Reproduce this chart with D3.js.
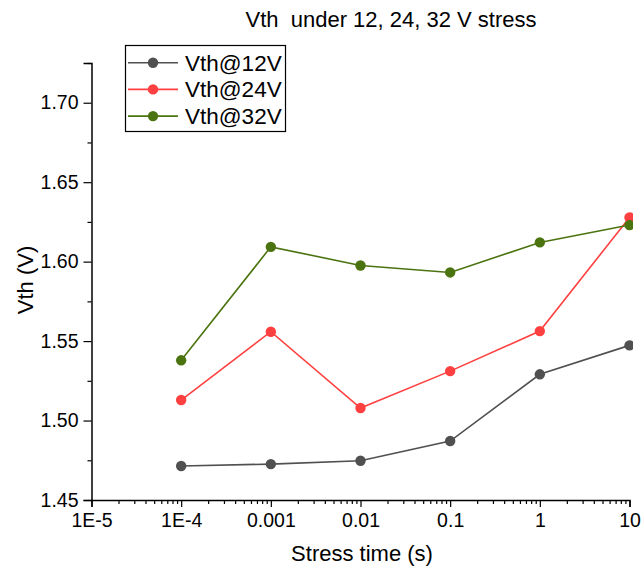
<!DOCTYPE html>
<html>
<head>
<meta charset="utf-8">
<script src="https://cdn.jsdelivr.net/npm/d3@7"></script>
<style>
  html, body { margin: 0; padding: 0; background: #fff; }
  svg { display: block; font-family: "Liberation Sans", Arial, sans-serif; }
</style>
</head>
<body>
<svg id="chart" width="642" height="574"></svg>
<script>
// Stress times (s) and measured threshold voltages (V)
const stressTimes = [1e-4, 1e-3, 1e-2, 1e-1, 1, 10];
const vth12 = [1.4714, 1.4726, 1.4747, 1.4871, 1.5291, 1.5473];
const vth24 = [1.5129, 1.5559, 1.5079, 1.5311, 1.5563, 1.6278];
const vth32 = [1.5379, 1.6093, 1.5976, 1.5932, 1.6121, 1.6230];

const seriesNames = ["Vth@12V", "Vth@24V", "Vth@32V"];
const seriesColors = ["#505050", "#ff4040", "#4b7410"];
const seriesValues = [vth12, vth24, vth32];

const xTickValues = [1e-5, 1e-4, 1e-3, 1e-2, 1e-1, 1, 10];
const xTickLabels = ["1E-5", "1E-4", "0.001", "0.01", "0.1", "1", "10"];
const yTickValues = [1.45, 1.50, 1.55, 1.60, 1.65, 1.70];

const svg = d3.select("#chart");

const x = d3.scaleLog().domain([1e-5, 10]).range([91.5, 629.5]);
const y = d3.scaleLinear().domain([1.45, 1.725]).range([500, 63]);

// Minor ticks: 2..9 within each decade, and halfway between y majors
const xMinor = [];
for (let e = -5; e < 1; e++) {
  for (let m = 2; m <= 9; m++) xMinor.push(m * Math.pow(10, e));
}
const yMinor = d3.range(0, 6).map(i => 1.475 + i * 0.05);

// X axis
const gx = svg.append("g").attr("transform", `translate(0,${y(1.45)})`);
gx.call(d3.axisBottom(x).tickValues(xMinor).tickSize(4).tickFormat(""))
  .call(g => g.select(".domain").remove());
gx.append("g").call(
  d3.axisBottom(x).tickValues(xTickValues).tickSize(7).tickPadding(6)
    .tickFormat((d, i) => xTickLabels[i])
);
gx.selectAll("line").attr("stroke", "#000").attr("stroke-width", 1.2);
gx.selectAll(".domain").attr("stroke", "#000").attr("stroke-width", 1.5);
gx.selectAll("text").attr("font-size", 19.5).attr("fill", "#000")
  .attr("font-family", "Liberation Sans, Arial, sans-serif");

// Y axis
const gy = svg.append("g").attr("transform", `translate(${x(1e-5)},0)`);
gy.call(d3.axisLeft(y).tickValues(yMinor).tickSize(4).tickFormat(""))
  .call(g => g.select(".domain").remove());
gy.append("g").call(
  d3.axisLeft(y).tickValues(yTickValues).tickSize(8).tickPadding(5)
    .tickFormat(d3.format(".2f"))
);
gy.selectAll("line").attr("stroke", "#000").attr("stroke-width", 1.2);
gy.selectAll(".domain").attr("stroke", "#000").attr("stroke-width", 1.5);
gy.selectAll("text").attr("font-size", 19.5).attr("fill", "#000")
  .attr("font-family", "Liberation Sans, Arial, sans-serif");

// Plot clip (markers at the far edge are cut by the layer frame)
svg.append("defs").append("clipPath").attr("id", "plot-clip")
  .append("rect").attr("x", x(1e-5)).attr("y", 58)
  .attr("width", 633 - x(1e-5)).attr("height", 450);

const plot = svg.append("g").attr("clip-path", "url(#plot-clip)");
const line = d3.line().x((d, i) => x(stressTimes[i])).y(d => y(d));

seriesValues.forEach((vals, s) => {
  plot.append("path").datum(vals)
    .attr("fill", "none").attr("stroke", seriesColors[s])
    .attr("stroke-width", 1.6).attr("d", line);
  plot.selectAll(null).data(vals).enter().append("circle")
    .attr("cx", (d, i) => x(stressTimes[i]))
    .attr("cy", d => y(d))
    .attr("r", 5.2)
    .attr("fill", seriesColors[s]);
});

// Title
svg.append("text").attr("x", 391).attr("y", 27)
  .attr("text-anchor", "middle").attr("font-size", 22).attr("fill", "#000")
  .attr("xml:space", "preserve").style("white-space", "pre")
  .text("Vth  under 12, 24, 32 V stress");

// Axis titles
svg.append("text").attr("x", 362).attr("y", 561)
  .attr("text-anchor", "middle").attr("font-size", 22).attr("fill", "#000")
  .text("Stress time (s)");
svg.append("text")
  .attr("transform", "translate(33,280) rotate(-90)")
  .attr("text-anchor", "middle").attr("font-size", 22).attr("fill", "#000")
  .text("Vth (V)");

// Legend
const legend = svg.append("g");
legend.append("rect").attr("x", 125.5).attr("y", 45.5)
  .attr("width", 160).attr("height", 86)
  .attr("fill", "#fff").attr("stroke", "#000").attr("stroke-width", 1.2);
seriesNames.forEach((name, s) => {
  const cy = 62.7 + s * 26.7;
  legend.append("line").attr("x1", 128).attr("x2", 178)
    .attr("y1", cy).attr("y2", cy)
    .attr("stroke", seriesColors[s]).attr("stroke-width", 1.6);
  legend.append("circle").attr("cx", 153).attr("cy", cy).attr("r", 5.2)
    .attr("fill", seriesColors[s]);
  legend.append("text").attr("x", 185).attr("y", cy + 8)
    .attr("font-size", 22.5).attr("fill", "#000")
    .text(name);
});
</script>
</body>
</html>
